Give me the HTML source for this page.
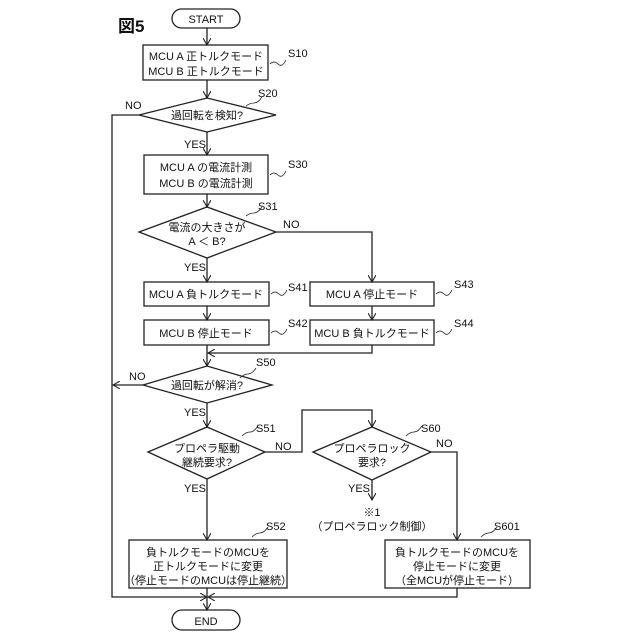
<!DOCTYPE html>
<html><head><meta charset="utf-8"><style>
html,body{margin:0;padding:0;background:#fff;}
svg{display:block}
text{font-family:"Liberation Sans","Noto Sans CJK JP",sans-serif;font-size:11px;fill:#111;}
</style></head><body>
<svg width="640" height="640" viewBox="0 0 640 640" xmlns="http://www.w3.org/2000/svg">
<defs><marker id="a" markerWidth="8" markerHeight="8" refX="7" refY="4" orient="auto" markerUnits="userSpaceOnUse"><path d="M0,0 L7,4 L0,8" fill="none" stroke="#222" stroke-width="1.1"/></marker></defs>
<g stroke="#222" stroke-width="1.3" fill="none">
<rect x="172" y="9" width="68" height="19" rx="9.5" fill="#fff"/>
<rect x="143" y="45" width="125" height="35"/>
<polygon points="139,115 207,98 276,115 207,132"/>
<rect x="144" y="155" width="124" height="39"/>
<polygon points="139,232 207,207 276,232 207,258"/>
<rect x="144" y="282" width="125" height="24"/>
<rect x="310" y="282" width="124" height="24"/>
<rect x="144" y="320" width="125" height="25"/>
<rect x="310" y="320" width="124" height="25"/>
<polygon points="143,385 207,366 272,385 207,403"/>
<polygon points="148,452 207,427 265,452 207,479"/>
<polygon points="313,452 372,427 431,452 372,480"/>
<rect x="129" y="540" width="158" height="48"/>
<rect x="385" y="540" width="145" height="48"/>
<rect x="172" y="610" width="68" height="20" rx="10"/>
<path d="M207,28 V45" marker-end="url(#a)"/>
<path d="M207,80 V98" marker-end="url(#a)"/>
<path d="M207,132 V155" marker-end="url(#a)"/>
<path d="M207,194 V207" marker-end="url(#a)"/>
<path d="M207,258 V282" marker-end="url(#a)"/>
<path d="M207,306 V320" marker-end="url(#a)"/>
<path d="M276,232 H372 V282" marker-end="url(#a)"/>
<path d="M372,306 V320" marker-end="url(#a)"/>
<path d="M207,345 V366" marker-end="url(#a)"/>
<path d="M372,345 V353 H208" marker-end="url(#a)"/>
<path d="M139,115 H112 V597 H207" marker-end="url(#a)"/>
<path d="M143,385 H113" marker-end="url(#a)"/>
<path d="M207,403 V427" marker-end="url(#a)"/>
<path d="M265,452 H302 V410 H372 V427" marker-end="url(#a)"/>
<path d="M372,480 V500" marker-end="url(#a)"/>
<path d="M431,452 H457 V540" marker-end="url(#a)"/>
<path d="M207,479 V540" marker-end="url(#a)"/>
<path d="M457,588 V597 H208" marker-end="url(#a)"/>
<path d="M207,588 V610" marker-end="url(#a)"/>
<g stroke-width="0.8">
<path d="M270,64 q4,-4 8,0 t8,-4"/>
<path d="M246,106 q4,-3 8,-3 t8,-6"/>
<path d="M270,175 q4,-4 8,0 t8,-4"/>
<path d="M246,216 q4,-3 8,-3 t8,-6"/>
<path d="M271,294 q4,-4 8,0 t8,-4"/>
<path d="M271,333 q4,-4 8,0 t8,-4"/>
<path d="M436,294 q4,-4 8,0 t8,-4"/>
<path d="M436,333 q4,-4 8,0 t8,-4"/>
<path d="M240,378 q4,-4 8,-4 t8,-6"/>
<path d="M242,436 q4,-4 8,-4 t8,-6"/>
<path d="M406,436 q4,-4 8,-4 t8,-6"/>
<path d="M252,537 q4,-4 8,-4 t8,-6"/>
<path d="M481,537 q4,-4 8,-4 t8,-6"/>
</g>
</g>
<text x="118" y="32" style="font-size:17px;font-weight:bold">図5</text>
<g text-anchor="middle">
<text x="206" y="23">START</text>
<text x="206" y="60">MCU A 正トルクモード</text>
<text x="206" y="75">MCU B 正トルクモード</text>
<text x="207" y="119">過回転を検知?</text>
<text x="206" y="171">MCU A の電流計測</text>
<text x="206" y="187">MCU B の電流計測</text>
<text x="207" y="231">電流の大きさが</text>
<text x="207" y="245">A ＜ B?</text>
<text x="206" y="298">MCU A 負トルクモード</text>
<text x="372" y="298">MCU A 停止モード</text>
<text x="206" y="337">MCU B 停止モード</text>
<text x="372" y="337">MCU B 負トルクモード</text>
<text x="207" y="389">過回転が解消?</text>
<text x="207" y="452">プロペラ駆動</text>
<text x="207" y="466">継続要求?</text>
<text x="372" y="452">プロペラロック</text>
<text x="372" y="466">要求?</text>
<text x="372" y="516">※1</text>
<text x="372" y="530">（プロペラロック制御）</text>
<text x="208" y="556">負トルクモードのMCUを</text>
<text x="208" y="570">正トルクモードに変更</text>
<text x="208" y="584">（停止モードのMCUは停止継続）</text>
<text x="457" y="556">負トルクモードのMCUを</text>
<text x="457" y="570">停止モードに変更</text>
<text x="457" y="584">（全MCUが停止モード）</text>
<text x="206" y="625">END</text>
</g>
<text x="288" y="57">S10</text>
<text x="258" y="97">S20</text>
<text x="288" y="168">S30</text>
<text x="258" y="210">S31</text>
<text x="288" y="291">S41</text>
<text x="288" y="327">S42</text>
<text x="454" y="288">S43</text>
<text x="454" y="327">S44</text>
<text x="256" y="366">S50</text>
<text x="256" y="432">S51</text>
<text x="421" y="432">S60</text>
<text x="266" y="530">S52</text>
<text x="494" y="530">S601</text>
<text x="125" y="109">NO</text>
<text x="283" y="228">NO</text>
<text x="129" y="380">NO</text>
<text x="275" y="450">NO</text>
<text x="436" y="447">NO</text>
<text x="184" y="148">YES</text>
<text x="184" y="271">YES</text>
<text x="184" y="416">YES</text>
<text x="184" y="492">YES</text>
<text x="348" y="492">YES</text>
</svg>
</body></html>
